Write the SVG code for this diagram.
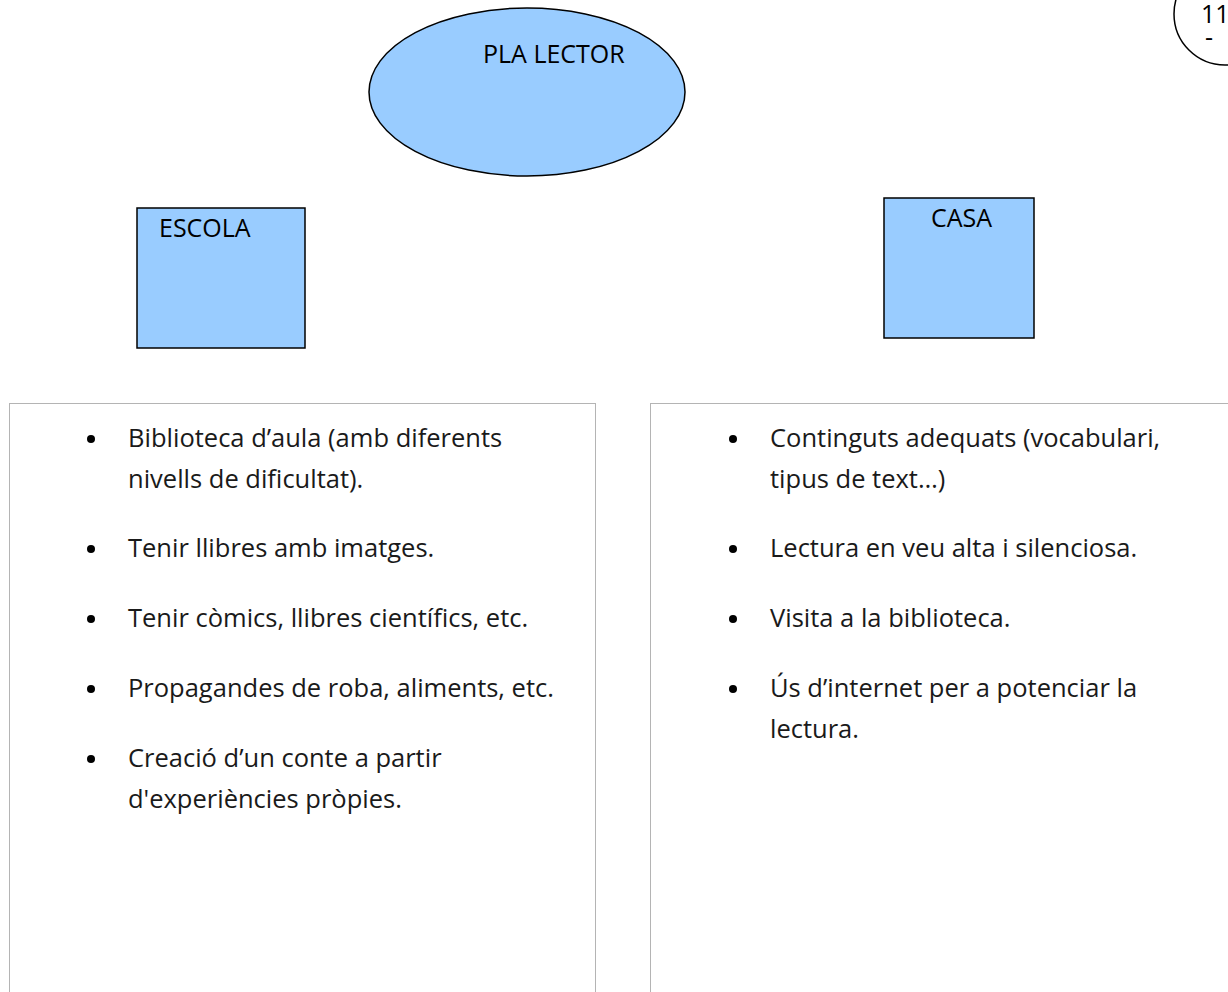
<svg xmlns="http://www.w3.org/2000/svg" width="1228" height="992" viewBox="0 0 1228 992">
<style>
.shape{fill:#99ccff;stroke:#000;stroke-width:1.5}
.lbl{font-family:"Open Sans","Liberation Sans",sans-serif;font-size:25px;fill:#000}
.txt{font-family:"Open Sans","Liberation Sans",sans-serif;font-size:25.5px;fill:#1a1a1a}
.panel{fill:#fff;stroke:#b4b4b4;stroke-width:1}
.dot{fill:#000}
</style>
<rect width="1228" height="992" fill="#fff"/>
<g id="page-number">
<circle cx="1225" cy="14" r="51" fill="#fff" stroke="#000" stroke-width="1.5"/>
<text class="lbl" x="1201" y="23" font-size="19">11</text>
<text class="lbl" x="1205" y="46" font-size="11">-</text>
</g>
<g id="pla-lector">
<ellipse class="shape" cx="527" cy="92" rx="158" ry="84"/>
<text class="lbl" x="483" y="63">PLA LECTOR</text>
</g>
<g id="escola">
<rect class="shape" x="137" y="208" width="168" height="140"/>
<text class="lbl" x="159" y="237">ESCOLA</text>
</g>
<g id="casa">
<rect class="shape" x="884" y="198" width="150" height="140"/>
<text class="lbl" x="931" y="227">CASA</text>
</g>
<g id="escola-list">
<rect class="panel" x="9.5" y="403.5" width="586" height="600"/>
<circle class="dot" cx="91" cy="439" r="4"/>
<text class="txt" x="128" y="447">Biblioteca d’aula (amb diferents</text>
<text class="txt" x="128" y="488">nivells de dificultat).</text>
<circle class="dot" cx="91" cy="549" r="4"/>
<text class="txt" x="128" y="557">Tenir llibres amb imatges.</text>
<circle class="dot" cx="91" cy="619" r="4"/>
<text class="txt" x="128" y="627">Tenir còmics, llibres científics, etc.</text>
<circle class="dot" cx="91" cy="689" r="4"/>
<text class="txt" x="128" y="697">Propagandes de roba, aliments, etc.</text>
<circle class="dot" cx="91" cy="759" r="4"/>
<text class="txt" x="128" y="767">Creació d’un conte a partir</text>
<text class="txt" x="128" y="808">d'experiències pròpies.</text>
</g>
<g id="casa-list">
<rect class="panel" x="650.5" y="403.5" width="600" height="600"/>
<circle class="dot" cx="733" cy="439" r="4"/>
<text class="txt" x="770" y="447">Continguts adequats (vocabulari,</text>
<text class="txt" x="770" y="488">tipus de text…)</text>
<circle class="dot" cx="733" cy="549" r="4"/>
<text class="txt" x="770" y="557">Lectura en veu alta i silenciosa.</text>
<circle class="dot" cx="733" cy="619" r="4"/>
<text class="txt" x="770" y="627">Visita a la biblioteca.</text>
<circle class="dot" cx="733" cy="689" r="4"/>
<text class="txt" x="770" y="697">Ús d’internet per a potenciar la</text>
<text class="txt" x="770" y="738">lectura.</text>
</g>
<g id="connectors"></g>
</svg>
